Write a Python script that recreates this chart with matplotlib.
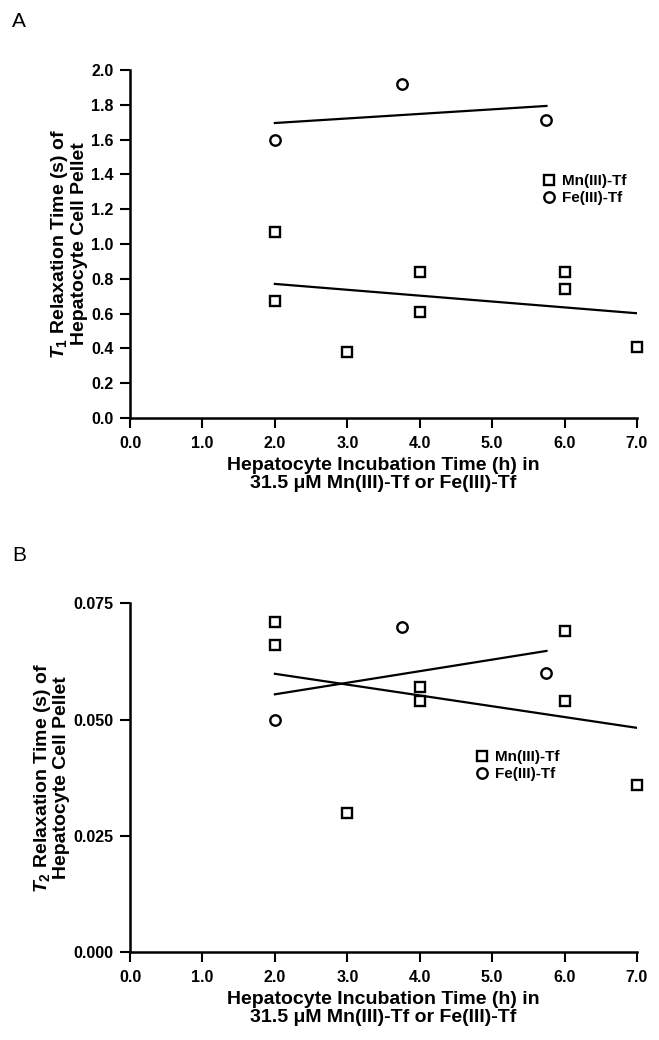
import numpy as np
import matplotlib as mpl
mpl.use('Agg')
from matplotlib import pyplot as plt

mpl.rcParams['font.family'] = ['Liberation Sans', 'DejaVu Sans']
mpl.rcParams['font.weight'] = 'bold'
mpl.rcParams['mathtext.fontset'] = 'custom'
mpl.rcParams['mathtext.rm'] = 'Liberation Sans:bold'
mpl.rcParams['mathtext.it'] = 'Liberation Sans:italic:bold'
mpl.rcParams['mathtext.bf'] = 'Liberation Sans:bold'

# incubation times (h)
mn_time = [2, 2, 3, 4, 4, 6, 6, 7]
fe_time = [2, 3.75, 5.75]

# panel A: T1 (s)
mn_t1 = [1.07, 0.67, 0.38, 0.84, 0.61, 0.84, 0.74, 0.41]
fe_t1 = [1.60, 1.92, 1.71]

# panel B: T2 (s)
mn_t2 = [0.071, 0.066, 0.030, 0.057, 0.054, 0.069, 0.054, 0.036]
fe_t2 = [0.050, 0.070, 0.060]

x_ticks = [0, 1, 2, 3, 4, 5, 6, 7]
x_ticklabels = ['0.0', '1.0', '2.0', '3.0', '4.0', '5.0', '6.0', '7.0']
t1_ticks = [0.0, 0.2, 0.4, 0.6, 0.8, 1.0, 1.2, 1.4, 1.6, 1.8, 2.0]
t2_ticks = [0.000, 0.025, 0.050, 0.075]

XLABEL = 'Hepatocyte Incubation Time (h) in\n31.5 \u03bcM Mn(III)-Tf or Fe(III)-Tf'


def fit_line(ax, x, y):
    # linear regression over the range of the data
    x = np.asarray(x, dtype=float)
    y = np.asarray(y, dtype=float)
    k, b = np.polyfit(x, y, 1)
    xs = np.array([x.min(), x.max()])
    ax.plot(xs, k * xs + b, color='black', lw=1.6)


def draw_panel(ax, mn_y, fe_y, yticks, yfmt, ylabel, leg_pos):
    fit_line(ax, fe_time, fe_y)
    fit_line(ax, mn_time, mn_y)
    h1, = ax.plot(mn_time, mn_y, 's', ms=7.5, mfc='none', mec='black', mew=1.7,
                  label='Mn(III)-Tf', clip_on=False)
    h2, = ax.plot(fe_time, fe_y, 'o', ms=7.5, mfc='none', mec='black', mew=1.7,
                  label='Fe(III)-Tf', clip_on=False)
    ax.set_xlim(0, 7)
    ax.set_ylim(yticks[0], yticks[-1])
    ax.set_xticks(x_ticks)
    ax.set_xticklabels(x_ticklabels)
    ax.set_yticks(yticks)
    ax.set_yticklabels([yfmt.format(v) for v in yticks])
    for s in ['top', 'right']:
        ax.spines[s].set_visible(False)
    for s in ['left', 'bottom']:
        ax.spines[s].set_linewidth(1.8)
    ax.tick_params(direction='out', length=7, width=1.5, labelsize=11.5)
    ax.tick_params(axis='x', pad=6)
    ax.tick_params(axis='y', pad=5)
    ax.set_xlabel(XLABEL, fontsize=14, fontweight='bold', labelpad=4, linespacing=1.12)
    ax.set_ylabel(ylabel, fontsize=14, fontweight='bold', labelpad=2, linespacing=1.05)
    ax.legend(handles=[h1, h2], loc='upper left', bbox_to_anchor=leg_pos,
              frameon=False, handletextpad=0.35, labelspacing=0.2,
              handlelength=1.0, borderpad=0, borderaxespad=0,
              prop={'weight': 'bold', 'size': 11})


fig = plt.figure(figsize=(6.59, 10.4), dpi=100)
ax1 = fig.add_axes([0.1973, 0.598, 0.7693, 0.3347])
ax2 = fig.add_axes([0.1973, 0.0843, 0.7693, 0.3356])

draw_panel(ax1, mn_t1, fe_t1, t1_ticks, '{:.1f}',
           '$T_1$ Relaxation Time (s) of\nHepatocyte Cell Pellet', (0.812, 0.70))
draw_panel(ax2, mn_t2, fe_t2, t2_ticks, '{:.3f}',
           '$T_2$ Relaxation Time (s) of\nHepatocyte Cell Pellet', (0.68, 0.58))

fig.text(0.018, 0.979, 'A', fontsize=15, fontweight='normal', va='center')
fig.text(0.018, 0.466, 'B', fontsize=15, fontweight='normal', va='center')

fig.savefig('out.png', dpi=100)
